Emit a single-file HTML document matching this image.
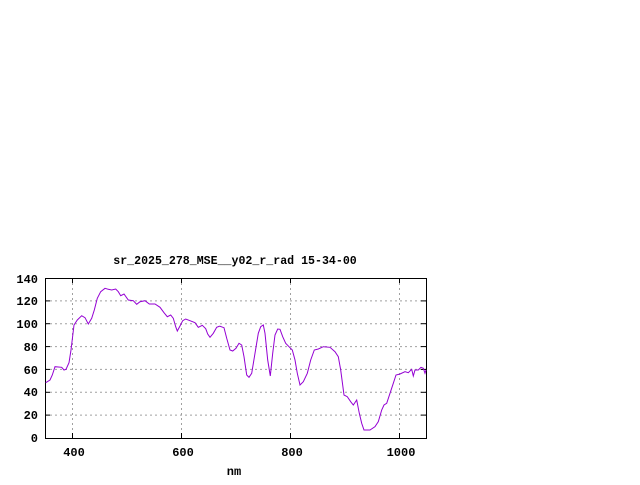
<!DOCTYPE html>
<html><head><style>
body{margin:0;background:#fff;}
svg text{font-family:"Liberation Mono",monospace;font-size:12px;font-weight:bold;fill:#000;}
</style></head><body>
<svg width="640" height="480" xmlns="http://www.w3.org/2000/svg">
<rect width="640" height="480" fill="#fff"/>
<g stroke="#a0a0a0" stroke-width="1" stroke-dasharray="2,3">
<line x1="45" y1="415.1" x2="426" y2="415.1"/>
<line x1="45" y1="392.3" x2="426" y2="392.3"/>
<line x1="45" y1="369.4" x2="426" y2="369.4"/>
<line x1="45" y1="346.6" x2="426" y2="346.6"/>
<line x1="45" y1="323.7" x2="426" y2="323.7"/>
<line x1="45" y1="300.9" x2="426" y2="300.9"/>
<line x1="72.5" y1="278" x2="72.5" y2="438"/>
<line x1="181.5" y1="278" x2="181.5" y2="438"/>
<line x1="290.5" y1="278" x2="290.5" y2="438"/>
<line x1="399.5" y1="278" x2="399.5" y2="438"/>
</g>
<rect x="45.5" y="278.5" width="381" height="160" fill="none" stroke="#000" stroke-width="1"/>
<g stroke="#000" stroke-width="1">
<line x1="45" y1="415.1" x2="50" y2="415.1"/><line x1="421" y1="415.1" x2="426" y2="415.1"/>
<line x1="45" y1="392.3" x2="50" y2="392.3"/><line x1="421" y1="392.3" x2="426" y2="392.3"/>
<line x1="45" y1="369.4" x2="50" y2="369.4"/><line x1="421" y1="369.4" x2="426" y2="369.4"/>
<line x1="45" y1="346.6" x2="50" y2="346.6"/><line x1="421" y1="346.6" x2="426" y2="346.6"/>
<line x1="45" y1="323.7" x2="50" y2="323.7"/><line x1="421" y1="323.7" x2="426" y2="323.7"/>
<line x1="45" y1="300.9" x2="50" y2="300.9"/><line x1="421" y1="300.9" x2="426" y2="300.9"/>
<line x1="72.5" y1="438" x2="72.5" y2="433"/><line x1="72.5" y1="278" x2="72.5" y2="283"/>
<line x1="181.5" y1="438" x2="181.5" y2="433"/><line x1="181.5" y1="278" x2="181.5" y2="283"/>
<line x1="290.5" y1="438" x2="290.5" y2="433"/><line x1="290.5" y1="278" x2="290.5" y2="283"/>
<line x1="399.5" y1="438" x2="399.5" y2="433"/><line x1="399.5" y1="278" x2="399.5" y2="283"/>
</g>
<g text-anchor="end">
<text x="38" y="442">0</text>
<text x="38" y="419">20</text>
<text x="38" y="396">40</text>
<text x="38" y="374">60</text>
<text x="38" y="351">80</text>
<text x="38" y="328">100</text>
<text x="38" y="305">120</text>
<text x="38" y="283">140</text>
</g>
<g text-anchor="middle">
<text x="74" y="456">400</text>
<text x="183" y="456">600</text>
<text x="292" y="456">800</text>
<text x="401" y="456">1000</text>
<text x="234" y="475">nm</text>
<text x="235" y="264" style="font-size:11.6px">sr_2025_278_MSE__y02_r_rad 15-34-00</text>
</g>
<polyline fill="none" stroke="#9400d3" stroke-width="1" points="45.7,382.7 50,380 52.3,375 55,366.7 61.7,367.3 64,370 66,369.3 69,362.7 71,350 74,325 77.3,320 81.7,315.7 85,317.7 88.3,324 91.7,318.3 94.3,310 97.3,298.3 100.7,291.7 105,288.3 108.3,289.3 111.7,290 115.7,289 118.3,291.7 120.7,295.7 124,294 128.3,300 133.3,300.7 136.7,304.3 140,301.7 145,300.7 149.3,304 155,304 160,307.3 164,312.7 167.3,316.7 170.7,315 173.3,318.3 175.7,326.7 177.3,331 180,326 182.7,320.7 185.7,319 190,320.7 195,322.7 198.3,327.3 202.3,325.3 205.7,328.7 207.7,334 210,337.3 213.3,333.3 216.7,327.3 219.3,326.3 220,326.3 224,327.7 226.7,338.3 230,350 232.7,351 236,348.3 239,343.3 241.7,345 244,356.7 246.7,375 249,377.3 251.7,373.3 255,353.3 258.3,333.3 260.7,326.7 263.3,325 265,333.3 267.7,360 270.3,376 272.7,353.3 275,335 277.7,329 280,329.3 282.7,336.7 285.7,343.3 289,346.7 292.3,350 295,360 297.3,373.3 300,385 303.3,381.7 307.3,373.3 310.7,360 314.3,350 318.3,349 323.3,346.7 330,347.3 335,351.7 338.3,356.7 340.7,370 344,395 347.3,396.7 350.7,401.7 353.3,405 356.7,400 359.3,413.3 361.7,423.3 364,430 370,430 375,426.7 378.3,421.7 381.7,410 384,405 386.7,403.3 390,393.3 393.3,383.3 396,375 400,374 405,371.7 408.3,372.7 411.7,369.3 413.3,376 415,370 418.3,370 421,367.3 423.3,368.3 425,373.3 426,370"/>
</svg>
</body></html>
